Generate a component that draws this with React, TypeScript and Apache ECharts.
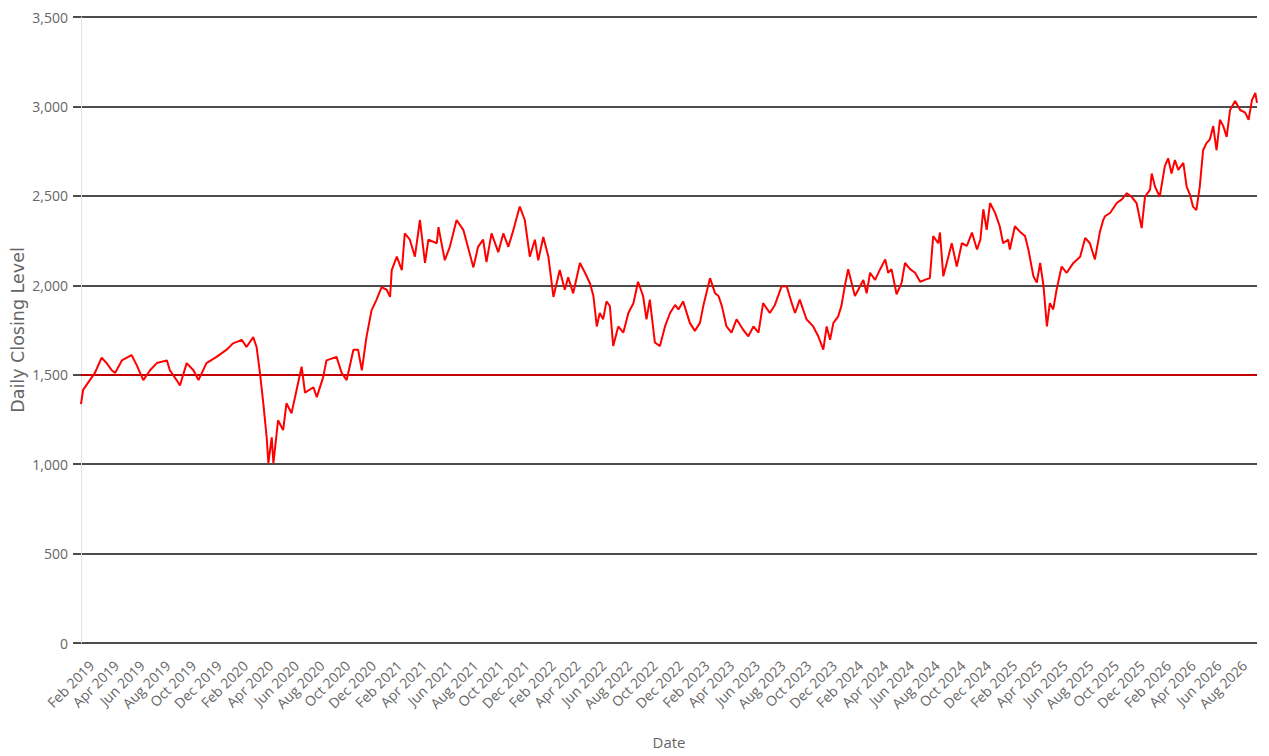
import React, { useEffect, useRef } from "react";
import * as echarts from "echarts";

const DATES: string[] = [
  "2019-01-07", "2019-01-12", "2019-01-28", "2019-02-09", "2019-02-25", "2019-03-09", "2019-03-21", "2019-03-29",
  "2019-04-14", "2019-05-07", "2019-05-19", "2019-06-04", "2019-06-20", "2019-07-06", "2019-07-30", "2019-08-06",
  "2019-08-22", "2019-08-30", "2019-09-15", "2019-10-01", "2019-10-13", "2019-11-01", "2019-11-25", "2019-12-19",
  "2020-01-03", "2020-01-24", "2020-02-04", "2020-02-20", "2020-02-28", "2020-03-07", "2020-03-15", "2020-03-23",
  "2020-03-27", "2020-04-04", "2020-04-08", "2020-04-19", "2020-05-01", "2020-05-09", "2020-05-21", "2020-06-02",
  "2020-06-14", "2020-06-22", "2020-07-12", "2020-07-20", "2020-08-04", "2020-08-12", "2020-09-05", "2020-09-17",
  "2020-09-29", "2020-10-15", "2020-10-26", "2020-11-04", "2020-11-15", "2020-11-27", "2020-12-09", "2020-12-21",
  "2021-01-02", "2021-01-10", "2021-01-14", "2021-01-26", "2021-02-07", "2021-02-14", "2021-02-26", "2021-03-10",
  "2021-03-22", "2021-04-03", "2021-04-11", "2021-05-01", "2021-05-05", "2021-05-20", "2021-06-01", "2021-06-17",
  "2021-07-03", "2021-07-27", "2021-08-07", "2021-08-19", "2021-08-27", "2021-09-08", "2021-09-24", "2021-10-06",
  "2021-10-18", "2021-10-30", "2021-11-14", "2021-11-26", "2021-12-08", "2021-12-20", "2021-12-28", "2022-01-09",
  "2022-01-21", "2022-02-02", "2022-02-17", "2022-03-01", "2022-03-09", "2022-03-21", "2022-04-06", "2022-04-18",
  "2022-04-30", "2022-05-08", "2022-05-16", "2022-05-23", "2022-05-31", "2022-06-08", "2022-06-16", "2022-06-24",
  "2022-07-06", "2022-07-18", "2022-07-30", "2022-08-11", "2022-08-22", "2022-09-03", "2022-09-11", "2022-09-19",
  "2022-10-01", "2022-10-13", "2022-10-25", "2022-11-06", "2022-11-18", "2022-11-26", "2022-12-07", "2022-12-23",
  "2023-01-04", "2023-01-16", "2023-01-24", "2023-02-09", "2023-02-21", "2023-03-01", "2023-03-09", "2023-03-20",
  "2023-04-01", "2023-04-13", "2023-04-29", "2023-05-11", "2023-05-23", "2023-06-04", "2023-06-15", "2023-07-01",
  "2023-07-13", "2023-07-29", "2023-08-10", "2023-08-22", "2023-08-30", "2023-09-10", "2023-09-26", "2023-10-12",
  "2023-10-24", "2023-11-05", "2023-11-13", "2023-11-21", "2023-11-29", "2023-12-10", "2023-12-18", "2023-12-26",
  "2024-01-03", "2024-01-11", "2024-01-19", "2024-01-27", "2024-02-08", "2024-02-16", "2024-02-24", "2024-03-07",
  "2024-03-19", "2024-03-31", "2024-04-07", "2024-04-15", "2024-04-27", "2024-05-09", "2024-05-17", "2024-05-29",
  "2024-06-10", "2024-06-22", "2024-07-03", "2024-07-15", "2024-07-23", "2024-08-04", "2024-08-08", "2024-08-16",
  "2024-08-28", "2024-09-05", "2024-09-17", "2024-09-29", "2024-10-11", "2024-10-23", "2024-11-04", "2024-11-12",
  "2024-11-19", "2024-11-27", "2024-12-05", "2024-12-17", "2024-12-28", "2025-01-05", "2025-01-17", "2025-01-21",
  "2025-02-02", "2025-02-14", "2025-02-26", "2025-03-06", "2025-03-18", "2025-03-26", "2025-04-03", "2025-04-11",
  "2025-04-19", "2025-04-26", "2025-05-04", "2025-05-12", "2025-05-24", "2025-06-05", "2025-06-21", "2025-07-07",
  "2025-07-19", "2025-07-30", "2025-08-11", "2025-08-23", "2025-08-31", "2025-09-04", "2025-09-16", "2025-10-02",
  "2025-10-14", "2025-10-26", "2025-11-06", "2025-11-18", "2025-11-30", "2025-12-08", "2025-12-20", "2025-12-24",
  "2026-01-01", "2026-01-12", "2026-01-24", "2026-02-01", "2026-02-09", "2026-02-17", "2026-02-25", "2026-03-09",
  "2026-03-17", "2026-03-25", "2026-04-01", "2026-04-09", "2026-04-17", "2026-04-25", "2026-05-03", "2026-05-11",
  "2026-05-19", "2026-05-27", "2026-06-04", "2026-06-12", "2026-06-20", "2026-06-28", "2026-07-10", "2026-07-22",
  "2026-08-03", "2026-08-11", "2026-08-19", "2026-08-27", "2026-08-31",
];

const CLOSES: number[] = [
  1335, 1415, 1470, 1510, 1595, 1565, 1525, 1510,
  1580, 1610, 1555, 1470, 1525, 1565, 1580, 1525,
  1470, 1440, 1565, 1525, 1470, 1565, 1600, 1640,
  1675, 1695, 1655, 1710, 1655, 1510, 1340, 1150,
  1005, 1150, 1005, 1245, 1190, 1340, 1285, 1415,
  1545, 1400, 1430, 1375, 1485, 1580, 1600, 1510,
  1470, 1640, 1640, 1525, 1710, 1860, 1920, 1990,
  1975, 1935, 2085, 2160, 2085, 2290, 2255, 2160,
  2365, 2125, 2255, 2235, 2325, 2140, 2215, 2365,
  2310, 2100, 2215, 2255, 2130, 2290, 2185, 2290,
  2215, 2310, 2440, 2365, 2160, 2255, 2140, 2270,
  2160, 1935, 2085, 1975, 2045, 1955, 2125, 2070,
  2010, 1940, 1770, 1845, 1810, 1910, 1885, 1660,
  1770, 1735, 1845, 1900, 2020, 1940, 1810, 1920,
  1680, 1660, 1770, 1845, 1890, 1865, 1910, 1790,
  1745, 1790, 1885, 2040, 1955, 1940, 1885, 1770,
  1735, 1810, 1750, 1715, 1770, 1735, 1900, 1845,
  1890, 1995, 1995, 1900, 1845, 1920, 1810, 1770,
  1715, 1640, 1770, 1695, 1790, 1825, 1885, 1995,
  2090, 2015, 1940, 1975, 2030, 1955, 2070, 2030,
  2090, 2145, 2070, 2090, 1950, 2015, 2125, 2090,
  2070, 2020, 2030, 2040, 2275, 2235, 2295, 2050,
  2160, 2235, 2105, 2235, 2220, 2295, 2200, 2255,
  2425, 2310, 2460, 2405, 2330, 2235, 2255, 2200,
  2330, 2300, 2275, 2200, 2050, 2015, 2125, 1995,
  1770, 1900, 1865, 1975, 2105, 2070, 2125, 2160,
  2265, 2235, 2145, 2300, 2366, 2386, 2404, 2460,
  2480, 2515, 2495, 2460, 2320, 2495, 2535, 2625,
  2550, 2495, 2665, 2710, 2625, 2700, 2645, 2685,
  2550, 2505, 2440, 2420, 2550, 2755, 2795, 2815,
  2890, 2755, 2925, 2890, 2830, 2980, 3030, 2980,
  2965, 2925, 3035, 3075, 3020,
];

const TICK_DATES: string[] = [
  "2019-02-01", "2019-04-01", "2019-06-01", "2019-08-01", "2019-10-01", "2019-12-01",
  "2020-02-01", "2020-04-01", "2020-06-01", "2020-08-01", "2020-10-01", "2020-12-01",
  "2021-02-01", "2021-04-01", "2021-06-01", "2021-08-01", "2021-10-01", "2021-12-01",
  "2022-02-01", "2022-04-01", "2022-06-01", "2022-08-01", "2022-10-01", "2022-12-01",
  "2023-02-01", "2023-04-01", "2023-06-01", "2023-08-01", "2023-10-01", "2023-12-01",
  "2024-02-01", "2024-04-01", "2024-06-01", "2024-08-01", "2024-10-01", "2024-12-01",
  "2025-02-01", "2025-04-01", "2025-06-01", "2025-08-01", "2025-10-01", "2025-12-01",
  "2026-02-01", "2026-04-01", "2026-06-01", "2026-08-01",
];

const MONTH_NAMES = ["Jan", "Feb", "Mar", "Apr", "May", "Jun", "Jul", "Aug", "Sep", "Oct", "Nov", "Dec"];

const X_START = "2019-01-07";
const X_END = "2026-08-31";
const Y_MIN = 0;
const Y_MAX = 3500;
const Y_STEP = 500;
const REFERENCE_LEVEL = 1500;

function toTime(s: string): number {
  const [y, m, d] = s.split("-").map(Number);
  return new Date(y, m - 1, d).getTime();
}

export default function App() {
  const ref = useRef<HTMLDivElement>(null);

  useEffect(() => {
    document.body.style.margin = "0";
    document.body.style.overflow = "hidden";
    if (!ref.current) return;
    const chart = echarts.init(ref.current, null, { renderer: "svg" });
    const TICK_FONT = "Open Sans";
    chart.setOption({
      animation: false,
      backgroundColor: "#ffffff",
      grid: {
        left: 81,
        right: 12,
        top: 17,
        bottom: 113,
        containLabel: false,
        outerBoundsMode: "none",
      },
      xAxis: {
        type: "value",
        min: toTime(X_START),
        max: toTime(X_END),
        scale: true,
        name: "Date",
        nameLocation: "middle",
        nameGap: 91,
        nameMoveOverlap: false,
        nameTextStyle: { color: "#666666", fontFamily: TICK_FONT, fontSize: 15 },
        axisLine: { show: false },
        axisTick: { show: false },
        splitLine: { show: false },
        axisLabel: {
          customValues: TICK_DATES.map(toTime),
          rotate: 45,
          margin: 20,
          color: "#666666",
          fontFamily: TICK_FONT,
          fontSize: 14,
          hideOverlap: false,
          showMinLabel: true,
          showMaxLabel: true,
          formatter: (val: number) => {
            const d = new Date(val);
            return `${MONTH_NAMES[d.getMonth()]} ${d.getFullYear()}`;
          },
        },
      },
      yAxis: {
        type: "value",
        min: Y_MIN,
        max: Y_MAX,
        interval: Y_STEP,
        name: "Daily Closing Level",
        nameLocation: "middle",
        nameGap: 54,
        nameMoveOverlap: false,
        nameTextStyle: { color: "#666666", fontFamily: "DejaVu Sans", fontSize: 17.5 },
        axisLine: { show: true, lineStyle: { color: "#e2e2e2", width: 1 } },
        axisTick: { show: true, length: 8, lineStyle: { color: "#111111", width: 1.5 } },
        axisLabel: { color: "#666666", fontFamily: TICK_FONT, fontSize: 14, margin: 13 },
        splitLine: { show: true, lineStyle: { color: "#111111", width: 1.5 } },
      },
      series: [
        {
          type: "line",
          data: DATES.map((d, i) => [toTime(d), CLOSES[i]]),
          showSymbol: false,
          symbol: "none",
          lineStyle: { color: "#ff0000", width: 2 },
          itemStyle: { color: "#ff0000" },
          z: 3,
          markLine: {
            silent: true,
            symbol: "none",
            label: { show: false },
            lineStyle: { color: "#c00000", width: 2, type: "solid" },
            data: [{ yAxis: REFERENCE_LEVEL }],
            z: 2,
          },
        },
      ],
    });
    return () => chart.dispose();
  }, []);

  return <div ref={ref} style={{ width: 1269, height: 756 }} />;
}
